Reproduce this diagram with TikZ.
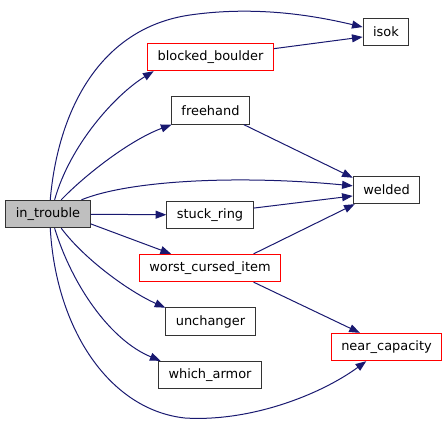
\documentclass[tikz,border=0pt]{standalone}
\usepackage{fontspec}
\setmainfont{DejaVu Sans}
\usetikzlibrary{arrows.meta}
\definecolor{CallEdge}{HTML}{191970}
\definecolor{CallRed}{HTML}{FF0000}
\definecolor{CallGrey}{HTML}{BFBFBF}
\definecolor{CallLine}{HTML}{333333}

\begin{document}
\begin{tikzpicture}[x=0.75pt,y=-0.75pt,
    fn/.style={draw=CallLine,line width=0.75pt,fill=white,inner xsep=7.5pt,
      inner ysep=0pt,minimum height=20.5pt,font=\fontsize{9.7}{11}\selectfont},
    fnred/.style={fn,draw=CallRed},
    call/.style={CallEdge,line width=0.75pt,-{Triangle[length=8pt,width=6pt]}}]
  \useasboundingbox (0,0) rectangle (448,425);

  % functions
  \node[fn,fill=CallGrey] (in_trouble) at (48,214) {in\_trouble};
  \node[fn] (isok) at (386,32) {isok};
  \node[fnred] (blocked_boulder) at (210.5,57) {blocked\_boulder};
  \node[fn] (freehand) at (210.5,110.5) {freehand};
  \node[fn] (welded) at (386.5,190) {welded};
  \node[fn] (stuck_ring) at (210,215) {stuck\_ring};
  \node[fnred] (worst_cursed_item) at (210,268) {worst\_cursed\_item};
  \node[fn] (unchanger) at (210.5,321.5) {unchanger};
  \node[fn] (which_armor) at (210,375) {which\_armor};
  \node[fnred] (near_capacity) at (386.5,347) {near\_capacity};

  % calls from in_trouble
  \draw[call] (in_trouble.81) .. controls (58,110) and (100,28) .. (190,15)
    .. controls (260,5) and (320,17) .. (isok.168);
  \draw[call] (in_trouble.65) .. controls (70,145) and (115,95) .. (blocked_boulder.194);
  \draw[call] (in_trouble.47) .. controls (85,175) and (130,140) .. (freehand.200);
  \draw[call] (in_trouble.23) .. controls (130,180) and (240,175) .. (welded.173);
  \draw[call] (in_trouble) -- (stuck_ring);
  \draw[call] (in_trouble.-13) -- (worst_cursed_item.160);
  \draw[call] (in_trouble.-47) .. controls (85,260) and (130,292) .. (unchanger.163);
  \draw[call] (in_trouble.-65) .. controls (72,285) and (110,340) .. (which_armor.164);
  \draw[call] (in_trouble.-81) .. controls (56,330) and (110,410) .. (185,418)
    .. controls (250,422) and (320,395) .. (near_capacity.215);

  % further calls
  \draw[call] (blocked_boulder) -- (isok.192);
  \draw[call] (freehand.-23) -- (welded.160);
  \draw[call] (stuck_ring.9) -- (welded.190);
  \draw[call] (worst_cursed_item.18) -- (welded.204);
  \draw[call] (worst_cursed_item.-18) -- (near_capacity.152);
\end{tikzpicture}
\end{document}
